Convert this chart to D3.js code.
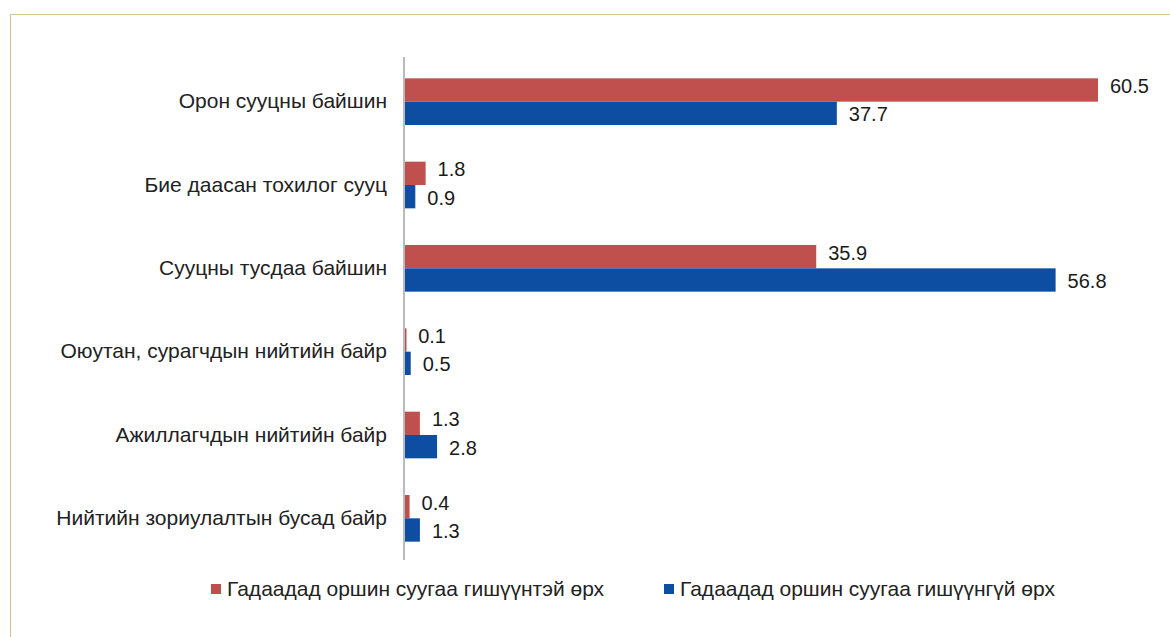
<!DOCTYPE html>
<html>
<head>
<meta charset="utf-8">
<script src="https://cdnjs.cloudflare.com/ajax/libs/d3/7.8.5/d3.min.js"></script>
<style>
  body { margin: 0; background: #fff; }
  svg { display: block; font-family: "Liberation Sans", Arial, sans-serif; }
</style>
</head>
<body>
<div class="chartWrapper"></div>
<script>
const width = 1170, height = 637;

const categories = [
  "Орон сууцны байшин",
  "Бие даасан тохилог сууц",
  "Сууцны тусдаа байшин",
  "Оюутан, сурагчдын нийтийн байр",
  "Ажиллагчдын нийтийн байр",
  "Нийтийн зориулалтын бусад байр"
];
const seriesNames = [
  "Гадаадад оршин суугаа гишүүнтэй өрх",
  "Гадаадад оршин суугаа гишүүнгүй өрх"
];
const withMember = [60.5, 1.8, 35.9, 0.1, 1.3, 0.4];
const withoutMember = [37.7, 0.9, 56.8, 0.5, 2.8, 1.3];
const colors = ["#c0504d", "#0d4ea3"];

const svg = d3.select(".chartWrapper").append("svg")
    .attr("width", width)
    .attr("height", height);

// frame lines (top and left)
svg.append("line")
  .attr("x1", 10.5).attr("x2", width).attr("y1", 14.5).attr("y2", 14.5)
  .attr("stroke", "#d3c597").attr("stroke-width", 1.2);
svg.append("line")
  .attr("x1", 10.5).attr("x2", 10.5).attr("y1", 14.5).attr("y2", height)
  .attr("stroke", "#d3c597").attr("stroke-width", 1.2);

const x0 = 405;
const x = d3.scaleLinear().domain([0, 60.5]).range([x0, 1098]);
const y = d3.scaleBand().domain(categories).range([60, 560]).paddingInner(0.44).paddingOuter(0.22);
const ySub = d3.scaleBand().domain([0, 1]).range([0, y.bandwidth()]);

const rows = categories.map((c, i) => ({ cat: c, vals: [withMember[i], withoutMember[i]] }));

const groups = svg.selectAll("g.row").data(rows).enter().append("g")
  .attr("class", "row")
  .attr("transform", d => `translate(0,${y(d.cat)})`);

groups.selectAll("rect").data(d => d.vals).enter().append("rect")
  .attr("x", x0)
  .attr("y", (d, i) => ySub(i))
  .attr("width", d => Math.max(x(d) - x0, 1.5))
  .attr("height", ySub.bandwidth())
  .attr("fill", (d, i) => colors[i]);

groups.selectAll("text.val").data(d => d.vals).enter().append("text")
  .attr("class", "val")
  .attr("x", d => x(d) + 12)
  .attr("y", (d, i) => ySub(i) + ySub.bandwidth() / 2 + (i === 0 ? -4 : 1))
  .attr("dy", "0.35em")
  .attr("font-size", 20)
  .attr("fill", "#1a1a1a")
  .text(d => d.toFixed(1));

// category axis
const yAxis = d3.axisLeft(y).tickSize(0).tickPadding(17);
const axisG = svg.append("g").attr("transform", `translate(${x0 - 1},0)`).call(yAxis);
axisG.select(".domain").attr("stroke", "#b9b9c2").attr("stroke-width", 2)
  .attr("d", "M0,57V560");
axisG.selectAll("text").attr("font-size", 21).attr("fill", "#222")
  .attr("font-family", "Liberation Sans, Arial, sans-serif");

// legend
const legendX = [211, 664];
const legend = svg.selectAll("g.legend").data(seriesNames).enter().append("g")
  .attr("class", "legend")
  .attr("transform", (d, i) => `translate(${legendX[i]},589)`);
legend.append("rect")
  .attr("x", 0).attr("y", -5).attr("width", 10).attr("height", 10)
  .attr("fill", (d, i) => colors[i]);
legend.append("text")
  .attr("x", 16).attr("dy", "0.35em")
  .attr("font-size", 21).attr("fill", "#222")
  .text(d => d);
</script>
</body>
</html>
